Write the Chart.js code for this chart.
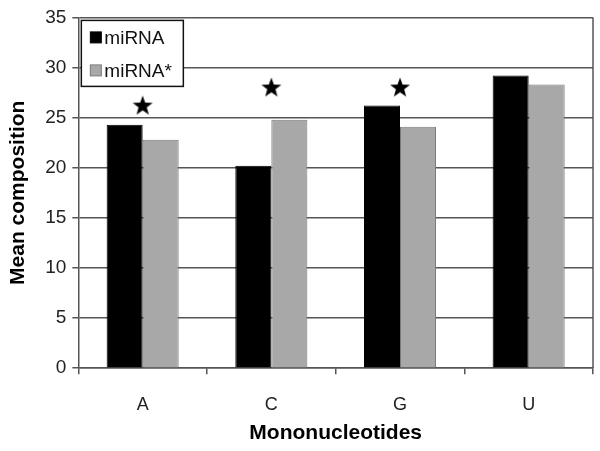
<!DOCTYPE html>
<html>
<head>
<meta charset="utf-8">
<script src="https://cdn.jsdelivr.net/npm/chart.js@4"></script>
<style>
  body { margin: 0; background: #fff; }
</style>
</head>
<body>
<canvas id="grafico" width="600" height="451"></canvas>
<script>
const categories = ["A", "C", "G", "U"];
const mirnaValues = [24.3, 20.2, 26.2, 29.2];
const mirnaStarValues = [22.8, 24.8, 24.1, 28.3];
// height of the significance star above each group (null = no star)
const starValues = [26.2, 28.0, 28.0, null];

// filled five-point star used as the point style
const stella = document.createElement("canvas");
stella.width = 22;
stella.height = 22;
(function () {
  const c = stella.getContext("2d");
  const cx = 11, cy = 11.5, rOut = 10.5, rIn = 4.3;
  c.beginPath();
  for (let i = 0; i < 10; i++) {
    const r = i % 2 === 0 ? rOut : rIn;
    const a = -Math.PI / 2 + (i * Math.PI) / 5;
    const x = cx + r * Math.cos(a);
    const y = cy + r * Math.sin(a);
    if (i === 0) c.moveTo(x, y); else c.lineTo(x, y);
  }
  c.closePath();
  c.fillStyle = "#000";
  c.fill();
})();

// legend box drawn inside the plot, top-left
const legendaInterna = {
  id: "legendaInterna",
  afterDraw(chart) {
    const ctx = chart.ctx;
    const area = chart.chartArea;
    const x0 = area.left + 3, y0 = area.top + 3;
    const w = 102, h = 66;
    ctx.save();
    ctx.fillStyle = "#fff";
    ctx.fillRect(x0, y0, w, h);
    ctx.strokeStyle = "#111";
    ctx.lineWidth = 1.5;
    ctx.strokeRect(x0, y0, w, h);
    ctx.font = "19px 'Liberation Sans', Arial, sans-serif";
    ctx.textBaseline = "middle";
    const voci = chart.data.datasets.filter(d => d.type !== "line");
    voci.forEach((d, i) => {
      const yc = y0 + 17 + i * 33;
      ctx.fillStyle = d.backgroundColor;
      ctx.fillRect(x0 + 9, yc - 5.5, 11, 11);
      ctx.strokeStyle = d.borderColor;
      ctx.lineWidth = 1;
      ctx.strokeRect(x0 + 9, yc - 5.5, 11, 11);
      ctx.fillStyle = "#111";
      ctx.fillText(d.label, x0 + 23, yc + 1);
    });
    ctx.restore();
  }
};

// right edge of the plot frame
const cornice = {
  id: "cornice",
  afterDatasetsDraw(chart) {
    const ctx = chart.ctx;
    const a = chart.chartArea;
    ctx.save();
    ctx.strokeStyle = "#555";
    ctx.lineWidth = 1.5;
    ctx.beginPath();
    ctx.moveTo(a.right, a.top);
    ctx.lineTo(a.right, a.bottom);
    ctx.stroke();
    ctx.restore();
  }
};

const ctx = document.getElementById("grafico").getContext("2d");

new Chart(ctx, {
  type: "bar",
  data: {
    labels: categories,
    datasets: [
      {
        label: "miRNA",
        data: mirnaValues,
        backgroundColor: "#000000",
        borderColor: "#000000",
        borderWidth: 1,
        order: 2
      },
      {
        label: "miRNA*",
        data: mirnaStarValues,
        backgroundColor: "#a8a8a8",
        borderColor: "#7a7a7a",
        borderWidth: 1,
        order: 2
      },
      {
        type: "line",
        label: "star",
        data: starValues,
        showLine: false,
        pointStyle: stella,
        pointRadius: 11,
        order: 1
      }
    ]
  },
  options: {
    responsive: false,
    animation: false,
    layout: { autoPadding: false, padding: { left: 6, right: 7, top: 0, bottom: 2 } },
    plugins: {
      legend: { display: false },
      tooltip: { enabled: false }
    },
    datasets: {
      bar: { categoryPercentage: 0.56, barPercentage: 1.0 }
    },
    scales: {
      x: {
        grid: {
          offset: true,
          drawOnChartArea: false,
          drawTicks: true,
          tickLength: 6,
          color: "#555",
          lineWidth: 1.5
        },
        border: { color: "#555", width: 1.5 },
        ticks: {
          color: "#222",
          font: { family: "'Liberation Sans', Arial, sans-serif", size: 18 },
          padding: 20
        },
        title: {
          display: true,
          text: "Mononucleotides",
          color: "#000",
          font: { family: "'Liberation Sans', Arial, sans-serif", size: 21, weight: "bold" },
          padding: { top: -15, bottom: 3 }
        }
      },
      y: {
        min: 0,
        max: 35,
        ticks: {
          stepSize: 5,
          color: "#222",
          font: { family: "'Liberation Sans', Arial, sans-serif", size: 19 },
          padding: 6
        },
        grid: {
          color: "#555",
          lineWidth: 1.5,
          tickLength: 6
        },
        border: { color: "#555", width: 1.5 },
        title: {
          display: true,
          text: "Mean composition",
          color: "#000",
          font: { family: "'Liberation Sans', Arial, sans-serif", size: 21, weight: "bold" },
          padding: { top: 0, bottom: 8 }
        }
      }
    }
  },
  plugins: [legendaInterna, cornice]
});
</script>
</body>
</html>
